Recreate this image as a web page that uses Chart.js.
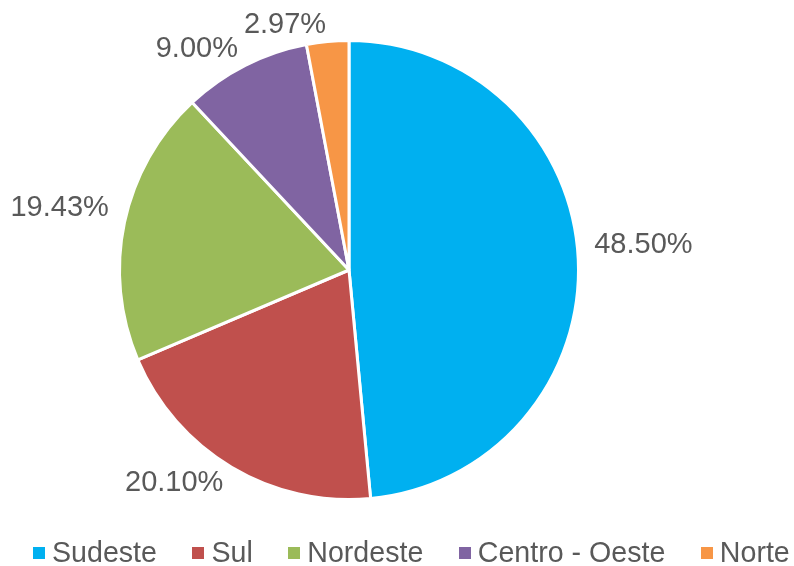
<!DOCTYPE html>
<html>
<head>
<meta charset="utf-8">
<script src="https://cdn.jsdelivr.net/npm/chart.js@4"></script>
<style>
  html, body { margin: 0; padding: 0; background: #fff; }
  #wrap { position: relative; width: 794px; height: 566px; }
  #legend {
    position: absolute; left: 33px; top: 538px; white-space: nowrap;
    font-family: "Liberation Sans", Arial, sans-serif; font-size: 28.6px; color: #595959;
    line-height: 29px;
  }
  #legend span.item { margin-right: 35.5px; }
  #legend span.box { display: inline-block; width: 12px; height: 12px; margin-right: 7px; vertical-align: 3px; }
</style>
</head>
<body>
<div id="wrap">
  <canvas id="pie" width="794" height="566"></canvas>
  <div id="legend"></div>
</div>
<script>
const regions = ["Sudeste", "Sul", "Nordeste", "Centro - Oeste", "Norte"];
const shares = [48.50, 20.10, 19.43, 9.00, 2.97];
const colors = ["#00B0F0", "#C0504D", "#9BBB59", "#8064A2", "#F79646"];

// percentage labels outside the slices
const outsideLabels = {
  id: 'outsideLabels',
  afterDatasetsDraw(chart) {
    const ctx = chart.ctx;
    const meta = chart.getDatasetMeta(0);
    ctx.save();
    ctx.font = '29px "Liberation Sans", Arial, sans-serif';
    ctx.fillStyle = '#595959';
    meta.data.forEach((arc, i) => {
      const p = arc.getProps(['x', 'y', 'startAngle', 'endAngle', 'outerRadius'], true);
      const mid = (p.startAngle + p.endAngle) / 2;
      const x = p.x + Math.cos(mid) * (p.outerRadius + 16);
      const y = p.y + Math.sin(mid) * (p.outerRadius + 2);
      ctx.textAlign = Math.cos(mid) >= 0 ? 'left' : 'right';
      ctx.textBaseline = Math.sin(mid) >= 0 ? 'top' : 'bottom';
      ctx.fillText(shares[i].toFixed(2) + '%', x, y);
    });
    ctx.restore();
  }
};

new Chart(document.getElementById('pie'), {
  type: 'pie',
  data: {
    labels: regions,
    datasets: [{
      data: shares,
      backgroundColor: colors,
      borderColor: '#ffffff',
      borderWidth: 3
    }]
  },
  options: {
    responsive: false,
    animation: false,
    layout: { padding: { left: 118, right: 214, top: 39, bottom: 65 } },
    plugins: {
      legend: { display: false },
      tooltip: { enabled: false }
    }
  },
  plugins: [outsideLabels]
});

const legend = document.getElementById('legend');
regions.forEach((name, i) => {
  const item = document.createElement('span');
  item.className = 'item';
  item.innerHTML = '<span class="box" style="background:' + colors[i] + '"></span>' + name;
  legend.appendChild(item);
});
</script>
</body>
</html>
